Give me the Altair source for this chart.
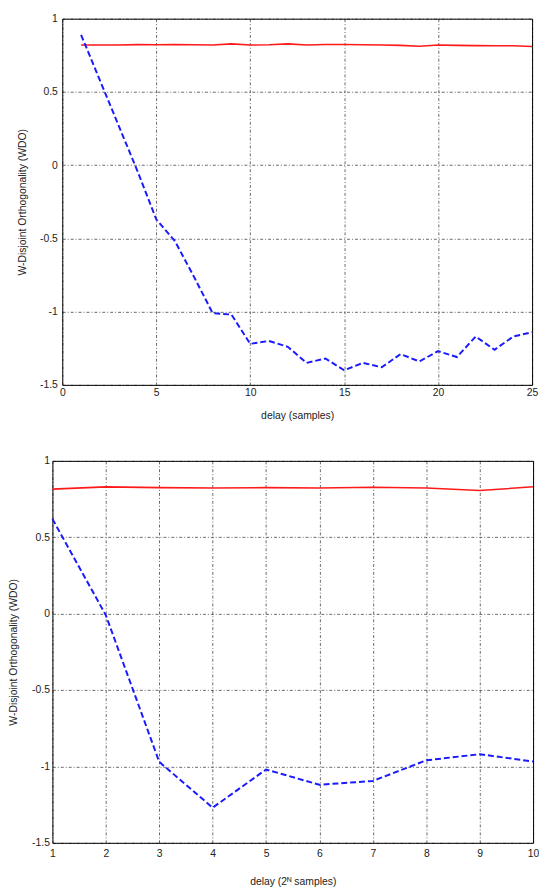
import altair as alt
import pandas as pd

# ---- data ----
top_x = list(range(1, 26))
top_red = [0.82, 0.82, 0.82, 0.823, 0.822, 0.823, 0.822, 0.82, 0.828, 0.82,
           0.822, 0.828, 0.82, 0.824, 0.824, 0.822, 0.82, 0.818, 0.812, 0.82,
           0.818, 0.816, 0.815, 0.815, 0.81]
top_blue = [0.89, 0.58, 0.27, -0.04, -0.37, -0.52, -0.76, -1.01, -1.02, -1.22,
            -1.20, -1.24, -1.35, -1.32, -1.40, -1.35, -1.38, -1.29, -1.34, -1.27,
            -1.31, -1.17, -1.26, -1.17, -1.14]
top_xticks = [0, 5, 10, 15, 20, 25]

bot_x = list(range(1, 11))
bot_red = [0.815, 0.83, 0.825, 0.822, 0.825, 0.822, 0.827, 0.822, 0.806, 0.83]
bot_blue = [0.62, -0.01, -0.97, -1.27, -1.02, -1.12, -1.095, -0.96, -0.92, -0.968]
bot_xticks = list(range(1, 11))

y_ticks = [-1.5, -1, -0.5, 0, 0.5, 1]
y_title = "W-Disjoint Orthogonality (WDO)"

FONT = "Liberation Sans"
FS = 10.5
GRID_DASH = [3, 2, 1, 2]


def panel(xs, red, blue, xdom, xticks, xtitle, plot_w, shift, plot_h,
          xlab_pad, xtitle_pad, ylab_pad, ytitle_pad):
    red_df = pd.DataFrame({"x": xs, "v": red})
    blue_df = pd.DataFrame({"x": xs, "v": blue})
    xsc = alt.Scale(domain=xdom, range=[shift, shift + plot_w], nice=False, zero=False)
    ysc = alt.Scale(domain=[-1.5, 1], nice=False, zero=False)
    common = dict(labelFont=FONT, labelFontSize=FS, labelColor="#222",
                  titleFont=FONT, titleFontSize=FS, titleColor="#222",
                  titleFontWeight="normal", ticks=False, domainColor="black",
                  domainWidth=1, gridColor="black", gridWidth=0.7,
                  gridOpacity=0.85, gridDash=GRID_DASH,
                  labelExpr="'' + datum.value")
    x_axis = alt.Axis(values=xticks, title=xtitle, grid=True, orient="bottom",
                      labelPadding=xlab_pad, titlePadding=xtitle_pad,
                      labelFlush=False, labelOverlap=False, **common)
    y_axis = alt.Axis(values=y_ticks, title=y_title, grid=True, orient="left",
                      offset=-shift, labelPadding=ylab_pad,
                      titlePadding=ytitle_pad, labelOverlap=False, **common)
    frame_x = alt.Axis(orient="top", labels=False, ticks=False, grid=False,
                       title=None, domainColor="black", domainWidth=1)
    frame_y = alt.Axis(orient="right", labels=False, ticks=False, grid=False,
                       title=None, domainColor="black", domainWidth=1)

    red_line = alt.Chart(red_df).mark_line(color="#ff1a1a", strokeWidth=1.6).encode(
        x=alt.X("x:Q", scale=xsc, axis=x_axis),
        y=alt.Y("v:Q", scale=ysc, axis=y_axis),
    )
    blue_line = alt.Chart(blue_df).mark_line(
        color="#1a1aff", strokeWidth=2, strokeDash=[6, 3]
    ).encode(
        x=alt.X("x:Q", scale=xsc, axis=None),
        y=alt.Y("v:Q", scale=ysc, axis=None),
    )
    frame = alt.Chart(red_df).mark_line(opacity=0).encode(
        x=alt.X("x:Q", scale=xsc, axis=frame_x),
        y=alt.Y("v:Q", scale=ysc, axis=frame_y),
    )
    return alt.layer(red_line, blue_line, frame).resolve_axis(
        x="independent", y="independent"
    ).properties(width=shift + plot_w, height=plot_h)


top = panel(top_x, top_red, top_blue, [0, 25], top_xticks, "delay (samples)",
            476, 10, 371, 3, 13, 5, 12.6)
bottom = panel(bot_x, bot_red, bot_blue, [1, 10], bot_xticks,
               "delay (2ᴺ samples)", 487, 0, 387, 6, 17.5, 3, 13.4)

chart = alt.vconcat(top, bottom, spacing=35).properties(
    padding={"left": 0, "top": 0, "right": 0, "bottom": 0}
).configure_view(stroke=None)

chart.save("out.html", embed_options={"renderer": "svg", "actions": False})
